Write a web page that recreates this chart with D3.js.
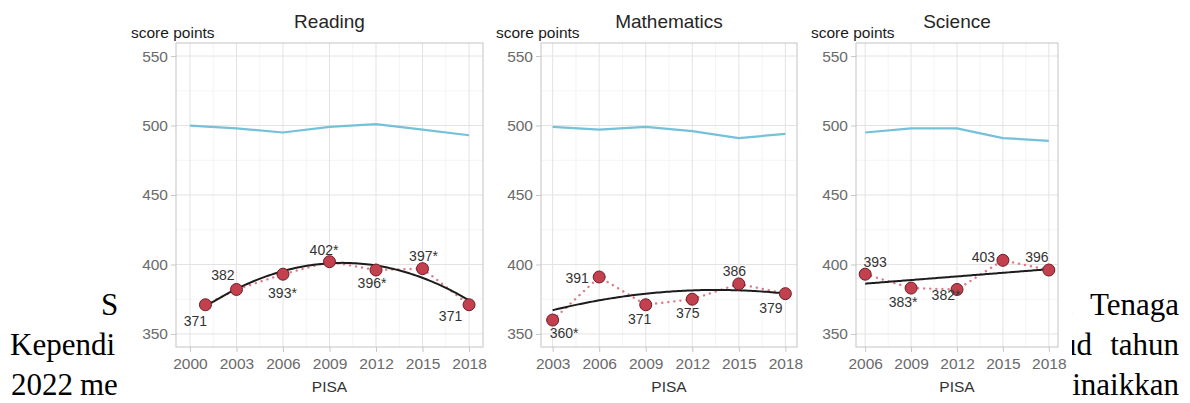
<!DOCTYPE html>
<html>
<head>
<meta charset="utf-8">
<script src="https://cdn.jsdelivr.net/npm/d3@7"></script>
<style>
  html, body { margin: 0; padding: 0; background: #fff; }
  svg { display: block; }
</style>
</head>
<body>
<svg id="chart" width="1190" height="403"></svg>
<script>
// ---------------- DATA ----------------
const readingYears  = [2001, 2003, 2006, 2009, 2012, 2015, 2018];
const readingScores = [371, 382, 393, 402, 396, 397, 371];
const readingLabels = ["371", "382", "393*", "402*", "396*", "397*", "371"];
const readingOecdYears = [2000, 2003, 2006, 2009, 2012, 2015, 2018];
const readingOecd   = [500, 498, 495, 499, 501, 497, 493];
const readingTicks  = [2000, 2003, 2006, 2009, 2012, 2015, 2018];

const mathYears  = [2003, 2006, 2009, 2012, 2015, 2018];
const mathScores = [360, 391, 371, 375, 386, 379];
const mathLabels = ["360*", "391", "371", "375", "386", "379"];
const mathOecd   = [499, 497, 499, 496, 491, 494];
const mathTicks  = [2003, 2006, 2009, 2012, 2015, 2018];

const scienceYears  = [2006, 2009, 2012, 2015, 2018];
const scienceScores = [393, 383, 382, 403, 396];
const scienceLabels = ["393", "383*", "382*", "403", "396"];
const scienceOecd   = [495, 498, 498, 491, 489];
const scienceTicks  = [2006, 2009, 2012, 2015, 2018];

const yTicks = [350, 400, 450, 500, 550];
const yMinor = [375, 425, 475, 525];

// ---------------- LAYOUT / STYLE CONFIG ----------------
const panels = [
  { title: "Reading", years: readingYears, scores: readingScores, labels: readingLabels,
    oecdYears: readingOecdYears, oecd: readingOecd, ticks: readingTicks, fit: 2,
    x0: 176, x1: 483,
    off: [[-10,16],[-13.5,-14],[-0.5,18.5],[-5.5,-12],[-4,13],[1,-13],[-18.5,11]] },
  { title: "Mathematics", years: mathYears, scores: mathScores, labels: mathLabels,
    oecdYears: mathYears, oecd: mathOecd, ticks: mathTicks, fit: 2,
    x0: 541, x1: 797,
    off: [[11.5,13],[-22,1],[-6,14],[-4.5,14],[-4.5,-12.5],[-14.5,14]] },
  { title: "Science", years: scienceYears, scores: scienceScores, labels: scienceLabels,
    oecdYears: scienceYears, oecd: scienceOecd, ticks: scienceTicks, fit: 1,
    x0: 856, x1: 1058,
    off: [[10,-12],[-8,14],[-11,6],[-19.5,-3],[-12,-13]] }
];
const plotTop = 43, plotBottom = 347;
const sans = "'Liberation Sans', Arial, Helvetica, sans-serif";
const serif = "'Liberation Serif', 'Times New Roman', serif";

const svg = d3.select("#chart");

// ---------------- background document text (only the parts not hidden by the chart) ----------------
const docText = [
  { t: "S", x: 101, y: 315, anchor: "start" },
  { t: "Kependi", x: 10, y: 355, anchor: "start" },
  { t: "2022", x: 11, y: 395, anchor: "start" },
  { t: "me", x: 80, y: 395, anchor: "start" },
  { t: ".", x: 1066, y: 315, anchor: "start" },
  { t: "Tenaga", x: 1179, y: 315, anchor: "end" },
  { t: "ud", x: 1092, y: 355, anchor: "end" },
  { t: "tahun", x: 1179, y: 355, anchor: "end" },
  { t: "inaikkan", x: 1179, y: 395, anchor: "end" }
];
svg.append("g").selectAll("text").data(docText).join("text")
  .attr("x", d => d.x).attr("y", d => d.y)
  .attr("text-anchor", d => d.anchor)
  .style("font-family", serif).style("font-size", "31px").attr("fill", "#000")
  .text(d => d.t);

// white image area of the chart
svg.append("rect").attr("x", 117).attr("y", 0).attr("width", 1072 - 117).attr("height", 403).attr("fill", "#fff");

// ---------------- fitting helper (least squares polynomial) ----------------
function polyFit(xs, ys, deg) {
  const xm = d3.mean(xs);
  const n = deg + 1;
  const A = Array.from({length: n}, () => new Array(n).fill(0));
  const b = new Array(n).fill(0);
  xs.forEach((x, i) => {
    const t = x - xm;
    for (let r = 0; r < n; r++) {
      b[r] += ys[i] * Math.pow(t, r);
      for (let c = 0; c < n; c++) A[r][c] += Math.pow(t, r + c);
    }
  });
  for (let i = 0; i < n; i++) {
    let p = i;
    for (let k = i + 1; k < n; k++) if (Math.abs(A[k][i]) > Math.abs(A[p][i])) p = k;
    [A[i], A[p]] = [A[p], A[i]]; [b[i], b[p]] = [b[p], b[i]];
    for (let k = i + 1; k < n; k++) {
      const f = A[k][i] / A[i][i];
      for (let c = i; c < n; c++) A[k][c] -= f * A[i][c];
      b[k] -= f * b[i];
    }
  }
  const coef = new Array(n).fill(0);
  for (let i = n - 1; i >= 0; i--) {
    let s = b[i];
    for (let c = i + 1; c < n; c++) s -= A[i][c] * coef[c];
    coef[i] = s / A[i][i];
  }
  return x => coef.reduce((acc, cf, k) => acc + cf * Math.pow(x - xm, k), 0);
}

// ---------------- panels ----------------
panels.forEach(p => {
  const span = p.ticks[p.ticks.length - 1] - p.ticks[0];
  const pad = span * 0.05;
  const x = d3.scaleLinear().domain([p.ticks[0] - pad, p.ticks[p.ticks.length - 1] + pad]).range([p.x0, p.x1]);
  const y = d3.scaleLinear().domain([340.6, 559.4]).range([plotBottom, plotTop]);
  const g = svg.append("g");

  // minor grid
  const xMinor = d3.pairs(p.ticks).map(([a, b]) => (a + b) / 2);
  g.append("g").selectAll("line").data(xMinor).join("line")
    .attr("x1", d => x(d)).attr("x2", d => x(d)).attr("y1", plotTop).attr("y2", plotBottom)
    .attr("stroke", "#f1f1f1").attr("stroke-width", 0.8);
  g.append("g").selectAll("line").data(yMinor).join("line")
    .attr("x1", p.x0).attr("x2", p.x1).attr("y1", d => y(d)).attr("y2", d => y(d))
    .attr("stroke", "#f1f1f1").attr("stroke-width", 0.8);
  // major grid
  g.append("g").selectAll("line").data(p.ticks).join("line")
    .attr("x1", d => x(d)).attr("x2", d => x(d)).attr("y1", plotTop).attr("y2", plotBottom)
    .attr("stroke", "#e3e3e3").attr("stroke-width", 1);
  g.append("g").selectAll("line").data(yTicks).join("line")
    .attr("x1", p.x0).attr("x2", p.x1).attr("y1", d => y(d)).attr("y2", d => y(d))
    .attr("stroke", "#e3e3e3").attr("stroke-width", 1);

  // axes
  const xAxis = g.append("g").attr("transform", `translate(0,${plotBottom})`)
    .call(d3.axisBottom(x).tickValues(p.ticks).tickFormat(d3.format("d")).tickSize(5).tickPadding(6));
  const yAxis = g.append("g").attr("transform", `translate(${p.x0},0)`)
    .call(d3.axisLeft(y).tickValues(yTicks).tickSize(5).tickPadding(3));
  [xAxis, yAxis].forEach(a => {
    a.select(".domain").remove();
    a.selectAll(".tick line").attr("stroke", "#c8c8c8");
    a.selectAll(".tick text").attr("fill", "#6a6a6a").style("font-family", sans).style("font-size", "15.5px");
  });

  // border
  g.append("rect").attr("x", p.x0).attr("y", plotTop).attr("width", p.x1 - p.x0).attr("height", plotBottom - plotTop)
    .attr("fill", "none").attr("stroke", "#c4c4c4").attr("stroke-width", 1);

  // titles
  g.append("text").attr("x", (p.x0 + p.x1) / 2).attr("y", 28).attr("text-anchor", "middle")
    .style("font-family", sans).style("font-size", "19px").attr("fill", "#262626").text(p.title);
  g.append("text").attr("x", p.x0 - 45).attr("y", 38)
    .style("font-family", sans).style("font-size", "15.5px").attr("fill", "#1a1a1a").text("score points");
  g.append("text").attr("x", (p.x0 + p.x1) / 2).attr("y", 392).attr("text-anchor", "middle")
    .style("font-family", sans).style("font-size", "15.5px").attr("fill", "#333").text("PISA");

  // OECD average line
  const oecdPts = p.oecdYears.map((yr, i) => [yr, p.oecd[i]]);
  g.append("path").datum(oecdPts)
    .attr("d", d3.line().x(d => x(d[0])).y(d => y(d[1])))
    .attr("fill", "none").attr("stroke", "#74c1d9").attr("stroke-width", 2.2);

  // dotted connecting line
  const pts = p.years.map((yr, i) => [yr, p.scores[i]]);
  g.append("path").datum(pts)
    .attr("d", d3.line().x(d => x(d[0])).y(d => y(d[1])))
    .attr("fill", "none").attr("stroke", "#e07a88").attr("stroke-width", 2.4)
    .attr("stroke-dasharray", "0.1,6").attr("stroke-linecap", "round");

  // fitted trend
  const f = polyFit(p.years, p.scores, p.fit);
  const xa = p.years[0], xb = p.years[p.years.length - 1];
  const fitPts = d3.range(0, 101).map(k => { const xx = xa + (xb - xa) * k / 100; return [xx, f(xx)]; });
  g.append("path").datum(fitPts)
    .attr("d", d3.line().x(d => x(d[0])).y(d => y(d[1])))
    .attr("fill", "none").attr("stroke", "#1c1c1c").attr("stroke-width", 2);

  // points
  g.append("g").selectAll("circle").data(pts).join("circle")
    .attr("cx", d => x(d[0])).attr("cy", d => y(d[1])).attr("r", 6)
    .attr("fill", "#c3404e").attr("stroke", "#6e1e26").attr("stroke-width", 1);

  // labels
  g.append("g").selectAll("text").data(pts).join("text")
    .attr("x", (d, i) => x(d[0]) + p.off[i][0])
    .attr("y", (d, i) => y(d[1]) + p.off[i][1])
    .attr("text-anchor", "middle").attr("dominant-baseline", "central")
    .style("font-family", sans).style("font-size", "14px").attr("fill", "#333")
    .text((d, i) => p.labels[i]);
});
</script>
</body>
</html>
